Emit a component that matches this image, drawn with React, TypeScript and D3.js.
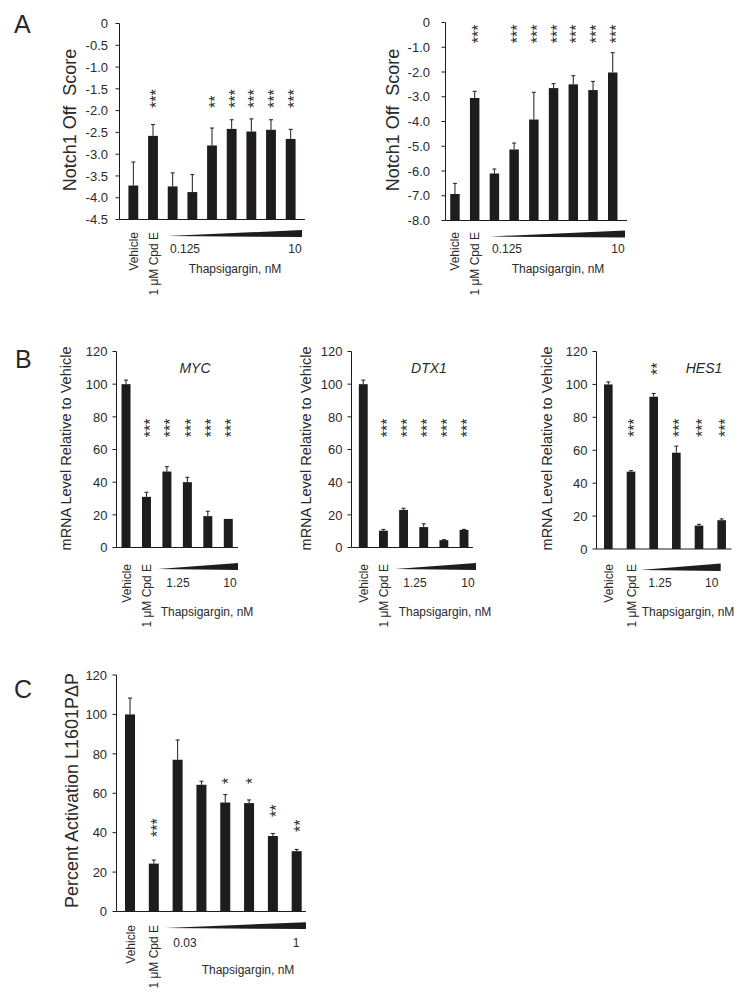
import React, { useEffect, useRef } from 'react';
import * as d3 from 'd3';

// ---------- DATA ----------
const notchCategories = ['Vehicle', '1 μM Cpd E', 'T1', 'T2', 'T3', 'T4', 'T5', 'T6', 'T7'];
const notchLeftValues = [-3.72, -2.58, -3.74, -3.87, -2.8, -2.42, -2.48, -2.44, -2.65];
const notchLeftErrors = [0.54, 0.26, 0.31, 0.4, 0.4, 0.21, 0.29, 0.23, 0.22];
const notchLeftStars = ['', '***', '', '', '**', '***', '***', '***', '***'];
const notchLeftTicks = [0, -0.5, -1, -1.5, -2, -2.5, -3, -3.5, -4, -4.5];

const notchRightValues = [-6.93, -3.05, -6.1, -5.13, -3.92, -2.65, -2.5, -2.73, -2.02];
const notchRightErrors = [0.43, 0.27, 0.18, 0.26, 1.1, 0.18, 0.35, 0.35, 0.8];
const notchRightStars = ['', '***', '', '***', '***', '***', '***', '***', '***'];
const notchRightTicks = [0, -1, -2, -3, -4, -5, -6, -7, -8];

const mrnaCategories = ['Vehicle', '1 μM Cpd E', 'T1', 'T2', 'T3', 'T4'];
const mycValues = [100, 31, 46.5, 40, 19.2, 17.5];
const mycErrors = [2.5, 2.8, 3, 3, 3, 0];
const mycStars = ['', '***', '***', '***', '***', '***'];
const dtx1Values = [100, 10.3, 23, 12.5, 4.5, 10.8];
const dtx1Errors = [2.5, 0.8, 1, 2, 0.3, 0.3];
const dtx1Stars = ['', '***', '***', '***', '***', '***'];
const hes1Values = [100, 47, 92.5, 58.5, 14.2, 17.5];
const hes1Errors = [1.5, 0.6, 2, 4, 0.8, 0.8];
const hes1Stars = ['', '***', '**', '***', '***', '***'];
const hes1StarLevels = [0, 68, 105.7, 68, 68, 68];
const mrnaTicks = [0, 20, 40, 60, 80, 100, 120];

const actCategories = ['Vehicle', '1 μM Cpd E', 'T1', 'T2', 'T3', 'T4', 'T5', 'T6'];
const actValues = [100, 24.3, 77, 64.3, 55.3, 55, 38.3, 30.6];
const actErrors = [8.3, 1.8, 10, 1.8, 4, 1.6, 1.3, 0.9];
const actStars = ['', '***', '', '', '*', '*', '**', '**'];
const actStarLevels = [0, 37.8, 0, 0, 64.7, 64.7, 48, 40.3];
const actTicks = [0, 20, 40, 60, 80, 100, 120];

const FONT = '"Liberation Sans", Arial, Helvetica, sans-serif';
const INK = '#1f1c1d';
const TXT = '#2a2a2a';

type Panel = {
  categories: string[];
  values: number[];
  errors: number[];
  stars: string[];
  starLevels: number[];
  ticks: number[];
  tickFmt: (v: number) => string;
  yDomain: [number, number];
  yRange: [number, number];
  barRange: [number, number];
  pad: number;
  axisX: [number, number];
  tickGap: number;
  title: string;
  titleSize: number;
  titlePos: [number, number];
  gene?: string;
  genePos?: [number, number];
  wedge: [number, number, number, number];
  doses: [string, string];
  doseX: [number, number];
  doseY: number;
  thapsPos: [number, number];
  catTop: number;
};

function drawPanel(svg: d3.Selection<SVGSVGElement, unknown, null, undefined>, p: Panel) {
  const g = svg.append('g');
  const x = d3.scaleBand<string>().domain(p.categories).range(p.barRange).paddingInner(p.pad).paddingOuter(p.pad / 2);
  const y = d3.scaleLinear().domain(p.yDomain).range(p.yRange);
  const base = p.yRange[0];
  const ax = p.axisX[0];

  // axes
  g.append('line').attr('x1', ax).attr('x2', ax).attr('y1', y(p.yDomain[1])).attr('y2', base)
    .attr('stroke', INK).attr('stroke-width', 1);
  g.append('line').attr('x1', ax).attr('x2', p.axisX[1]).attr('y1', base).attr('y2', base)
    .attr('stroke', INK).attr('stroke-width', 1);

  p.ticks.forEach((t) => {
    g.append('line').attr('x1', ax - 4).attr('x2', ax).attr('y1', y(t)).attr('y2', y(t))
      .attr('stroke', INK).attr('stroke-width', 1);
    g.append('text').attr('x', ax - p.tickGap).attr('y', y(t)).attr('dy', '0.36em')
      .attr('text-anchor', 'end').attr('font-size', 13).attr('font-family', FONT).attr('fill', TXT)
      .text(p.tickFmt(t));
  });

  // bars
  const bw = x.bandwidth();
  p.categories.forEach((c, i) => {
    const v = p.values[i];
    const x0 = x(c) as number;
    const cx = x0 + bw / 2;
    g.append('rect').attr('x', x0).attr('width', bw).attr('y', y(v)).attr('height', base - y(v))
      .attr('fill', INK);
    const e = p.errors[i];
    if (e > 0) {
      g.append('line').attr('x1', cx).attr('x2', cx).attr('y1', y(v)).attr('y2', y(v + e))
        .attr('stroke', INK).attr('stroke-width', 1);
      g.append('line').attr('x1', cx - 2).attr('x2', cx + 2).attr('y1', y(v + e)).attr('y2', y(v + e))
        .attr('stroke', INK).attr('stroke-width', 1);
    }
    if (p.stars[i]) {
      g.append('text')
        .attr('transform', `translate(${cx},${y(p.starLevels[i])}) rotate(-90)`)
        .attr('dy', '0.57em').attr('text-anchor', 'start').attr('font-size', 16)
        .attr('font-family', FONT).attr('fill', TXT).text(p.stars[i]);
    }
    if (i < 2) {
      g.append('text')
        .attr('transform', `translate(${cx + 4.5},${p.catTop}) rotate(-90)`)
        .attr('text-anchor', 'end').attr('font-size', 12).attr('font-family', FONT).attr('fill', TXT)
        .text(c);
    }
  });

  // y title
  g.append('text')
    .attr('transform', `translate(${p.titlePos[0]},${p.titlePos[1]}) rotate(-90)`)
    .attr('text-anchor', 'middle').attr('font-size', p.titleSize).attr('font-family', FONT).attr('fill', TXT)
    .attr('xml:space', 'preserve').style('white-space', 'pre')
    .text(p.title);

  if (p.gene && p.genePos) {
    g.append('text').attr('x', p.genePos[0]).attr('y', p.genePos[1]).attr('text-anchor', 'middle')
      .attr('font-size', 14).attr('font-style', 'italic').attr('font-family', FONT).attr('fill', TXT)
      .text(p.gene);
  }

  // wedge
  const [w0, w1, wb, wh] = p.wedge;
  g.append('path').attr('d', `M${w0},${wb - 1}L${w1},${wb}L${w1},${wb - wh}Z`).attr('fill', INK);

  p.doses.forEach((d, i) => {
    g.append('text').attr('x', p.doseX[i]).attr('y', p.doseY).attr('text-anchor', 'middle')
      .attr('font-size', 12).attr('font-family', FONT).attr('fill', TXT).text(d);
  });
  g.append('text').attr('x', p.thapsPos[0]).attr('y', p.thapsPos[1]).attr('text-anchor', 'middle')
    .attr('font-size', 12).attr('font-family', FONT).attr('fill', TXT).text('Thapsigargin, nM');
}

const fmt1 = (v: number) => (v === 0 ? '0' : v.toFixed(1));
const fmt0 = (v: number) => String(v);

export default function App() {
  const ref = useRef<SVGSVGElement | null>(null);
  useEffect(() => {
    if (!ref.current) return;
    const svg = d3.select(ref.current);
    svg.selectAll('*').remove();
    svg.append('rect').attr('width', 751).attr('height', 1005).attr('fill', '#fff');

    const panels: Panel[] = [
      {
        categories: notchCategories, values: notchLeftValues, errors: notchLeftErrors, stars: notchLeftStars,
        starLevels: notchLeftStars.map(() => -1.94), ticks: notchLeftTicks, tickFmt: fmt1,
        yDomain: [-4.5, 0], yRange: [219.5, 23.5], barRange: [123.5, 300.5], pad: 0.5, axisX: [119.5, 305],
        tickGap: 11.5, title: 'Notch1 Off  Score', titleSize: 18, titlePos: [75.5, 120],
        wedge: [167, 302, 237, 7], doses: ['0.125', '10'], doseX: [185, 295], doseY: 253,
        thapsPos: [235, 273], catTop: 232,
      },
      {
        categories: notchCategories, values: notchRightValues, errors: notchRightErrors, stars: notchRightStars,
        starLevels: notchRightStars.map(() => -0.84), ticks: notchRightTicks, tickFmt: fmt1,
        yDomain: [-8, 0], yRange: [220.5, 22.5], barRange: [445.1, 622.6], pad: 0.52, axisX: [445.5, 627],
        tickGap: 15.5, title: 'Notch1 Off  Score', titleSize: 18, titlePos: [399, 120],
        wedge: [490, 625, 237.5, 7], doses: ['0.125', '10'], doseX: [507, 618], doseY: 253,
        thapsPos: [558, 273], catTop: 232,
      },
      {
        categories: mrnaCategories, values: mycValues, errors: mycErrors, stars: mycStars,
        starLevels: mycStars.map(() => 67.5), ticks: mrnaTicks, tickFmt: fmt0,
        yDomain: [0, 120], yRange: [547.5, 351.5], barRange: [115.8, 238.5], pad: 0.56, axisX: [116.5, 238],
        tickGap: 9, title: 'mRNA Level Relative to Vehicle', titleSize: 14.5, titlePos: [71, 448.5],
        gene: 'MYC', genePos: [195, 373],
        wedge: [158, 238, 570, 7], doses: ['1.25', '10'], doseX: [178, 230], doseY: 587,
        thapsPos: [207, 616], catTop: 564,
      },
      {
        categories: mrnaCategories, values: dtx1Values, errors: dtx1Errors, stars: dtx1Stars,
        starLevels: dtx1Stars.map(() => 67.5), ticks: mrnaTicks, tickFmt: fmt0,
        yDomain: [0, 120], yRange: [547.5, 351.5], barRange: [353.2, 474.1], pad: 0.56, axisX: [351.5, 473],
        tickGap: 9, title: 'mRNA Level Relative to Vehicle', titleSize: 14.5, titlePos: [311, 448.5],
        gene: 'DTX1', genePos: [429, 373],
        wedge: [395, 476, 570, 7], doses: ['1.25', '10'], doseX: [415, 468], doseY: 587,
        thapsPos: [445, 616], catTop: 564,
      },
      {
        categories: mrnaCategories, values: hes1Values, errors: hes1Errors, stars: hes1Stars,
        starLevels: hes1StarLevels, ticks: mrnaTicks, tickFmt: fmt0,
        yDomain: [0, 120], yRange: [549, 351.5], barRange: [597, 733], pad: 0.62, axisX: [596.5, 731.5],
        tickGap: 9, title: 'mRNA Level Relative to Vehicle', titleSize: 14.5, titlePos: [552, 448.5],
        gene: 'HES1', genePos: [704, 373],
        wedge: [640, 720.7, 571, 7.5], doses: ['1.25', '10'], doseX: [660, 711.7], doseY: 587,
        thapsPos: [688, 616], catTop: 564,
      },
      {
        categories: actCategories, values: actValues, errors: actErrors, stars: actStars,
        starLevels: actStarLevels, ticks: actTicks, tickFmt: fmt0,
        yDomain: [0, 120], yRange: [911.5, 675], barRange: [118.1, 308.6], pad: 0.58, axisX: [116.5, 306],
        tickGap: 9.4, title: 'Percent Activation L1601PΔP', titleSize: 18, titlePos: [78, 790.5],
        wedge: [165, 306, 929, 6.8], doses: ['0.03', '1'], doseX: [185, 296], doseY: 946.5,
        thapsPos: [248, 974], catTop: 925,
      },
    ];
    panels.forEach((p) => drawPanel(svg as any, p));

    const letters: [string, number, number][] = [['A', 14, 33.3], ['B', 15, 367.7], ['C', 14, 697.7]];
    letters.forEach(([t, lx, ly]) => {
      svg.append('text').attr('x', lx).attr('y', ly).attr('font-size', 25).attr('font-family', FONT)
        .attr('fill', TXT).text(t);
    });
  }, []);

  return (
    <svg
      ref={ref}
      width={751}
      height={1005}
      style={{ position: 'absolute', left: 0, top: 0, display: 'block' }}
    />
  );
}
